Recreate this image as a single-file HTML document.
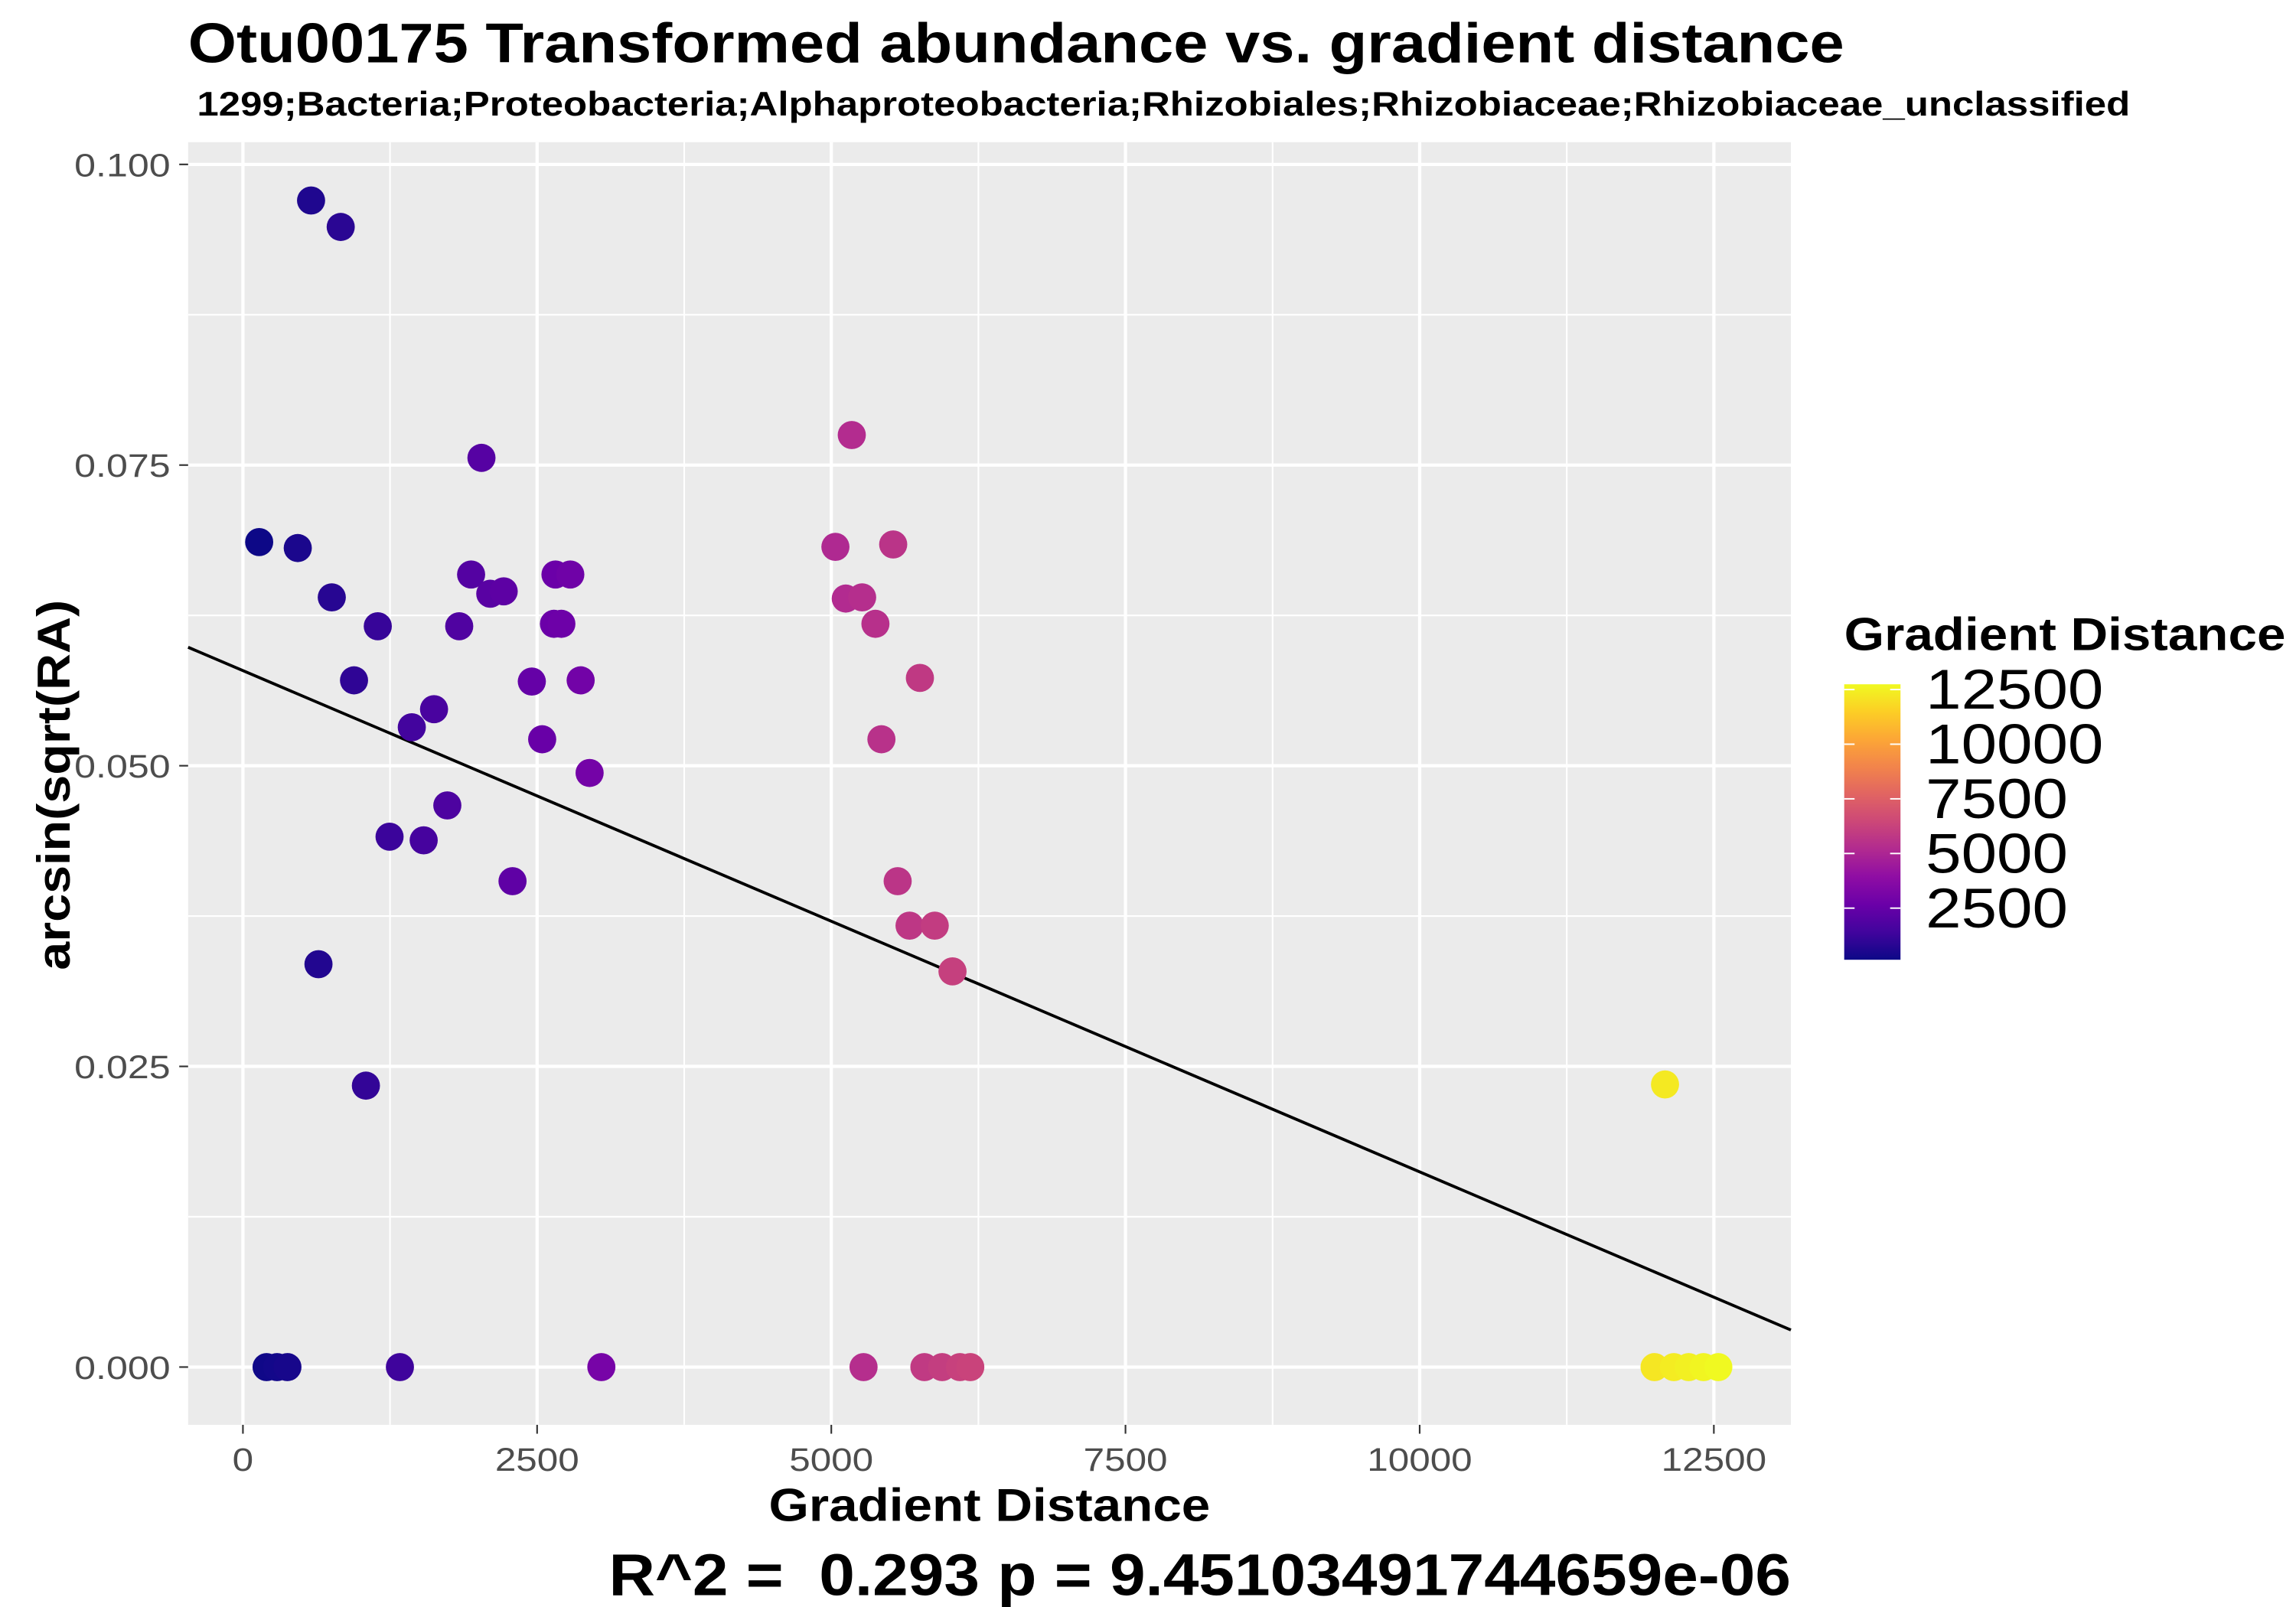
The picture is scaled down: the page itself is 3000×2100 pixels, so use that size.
<!DOCTYPE html>
<html><head><meta charset="utf-8"><style>html,body{margin:0;padding:0;background:#fff}svg{display:block}text{font-family:"Liberation Sans",sans-serif}</style></head>
<body>
<svg id="chart" width="3000" height="2100" viewBox="0 0 1550 1085" xmlns="http://www.w3.org/2000/svg">
<text x="127" y="42" font-size="38" font-weight="bold" textLength="1118" lengthAdjust="spacingAndGlyphs">Otu00175 Transformed abundance vs. gradient distance</text>
<text x="133" y="78" font-size="23" font-weight="bold" textLength="1305" lengthAdjust="spacingAndGlyphs">1299;Bacteria;Proteobacteria;Alphaproteobacteria;Rhizobiales;Rhizobiaceae;Rhizobiaceae_unclassified</text>
<rect x="127" y="96" width="1082" height="866" fill="#ebebeb"/>
<g id="grid"></g>
<g id="fit"></g>
<g id="points"></g>
<g id="axes"></g>
<text x="519" y="1027" font-size="31" font-weight="bold" textLength="298" lengthAdjust="spacingAndGlyphs">Gradient Distance</text>
<text transform="translate(47,655) rotate(-90)" font-size="31" font-weight="bold" textLength="250" lengthAdjust="spacingAndGlyphs">arcsin(sqrt(RA)</text>
<text x="411" y="1077" font-size="40" font-weight="bold" textLength="798" lengthAdjust="spacingAndGlyphs" xml:space="preserve">R^2 =  0.293 p = 9.45103491744659e-06</text>
<text x="1245" y="439" font-size="31" font-weight="bold" textLength="298" lengthAdjust="spacingAndGlyphs">Gradient Distance</text>
<defs><linearGradient id="plasma" x1="0" y1="1" x2="0" y2="0">
<stop offset="0" stop-color="#0d0887"/><stop offset="0.1" stop-color="#41049d"/><stop offset="0.2" stop-color="#6a00a8"/><stop offset="0.3" stop-color="#8f0da4"/><stop offset="0.4" stop-color="#b12a90"/><stop offset="0.5" stop-color="#cc4778"/><stop offset="0.6" stop-color="#e16462"/><stop offset="0.7" stop-color="#f2844b"/><stop offset="0.8" stop-color="#fca636"/><stop offset="0.9" stop-color="#fcce25"/><stop offset="1" stop-color="#f0f921"/></linearGradient></defs>
<rect x="1245" y="462" width="38" height="186" fill="url(#plasma)"/>
<g id="legend"></g>
</svg>
<script>
const xs=[579,831,138,466,755,1146,944,642,1045,1435,1624,1246,1536,1737,1838,1939,2027,2102,2216,2291,2455,2543,2656,2782,2643,2706,2870,2946,5035,5174,5123,5262,5526,5375,5753,5426,5564,5665,5879,6030,12085,201,290,378,1334,3046,5274,5791,5942,6093,6181,11996,12160,12286,12412,12538];
const ys=[0.0970,0.0948,0.0686,0.0681,0.0640,0.0616,0.0571,0.0335,0.0234,0.0532,0.0547,0.0441,0.0438,0.0467,0.0616,0.0659,0.0756,0.0643,0.0645,0.0404,0.0570,0.0522,0.0659,0.0659,0.0618,0.0618,0.0571,0.0494,0.0682,0.0775,0.0639,0.0640,0.0684,0.0618,0.0573,0.0522,0.0404,0.0367,0.0367,0.0329,0.0235,0,0,0,0,0,0,0,0,0,0,0,0,0,0,0];
const xTicks=[0,2500,5000,7500,10000,12500];
const yTicks=[0,0.025,0.05,0.075,0.1];
const yTickLabels=["0.000","0.025","0.050","0.075","0.100"];
const legendTicks=[2500,5000,7500,10000,12500];
const fitIntercept=0.05791, fitSlope=-4.168e-6;
const X=v=>164+v*0.07944, Y=v=>923-v*8120;
const NS="http://www.w3.org/2000/svg";
function mk(tag,attrs,parent){const e=document.createElementNS(NS,tag);for(const k in attrs)e.setAttribute(k,attrs[k]);parent.appendChild(e);return e;}
function tw(s,d){let w=0;for(const ch of s)w+=(ch==='.')?8:d;return w;}
const grid=document.getElementById('grid'),axes=document.getElementById('axes');
for(let v=-1250;v<=13750;v+=1250){const px=X(v);if(px<127||px>1209)continue;const major=(v%2500===0);
 const l=mk('line',{x1:px,x2:px,y1:96,y2:962,stroke:'#fff','stroke-width':major?2.2:1.1},grid);
 
 }
for(let v=-0.0125;v<=0.1125;v+=0.0125){const py=Y(v);if(py<96||py>962)continue;const major=Math.abs(Math.round(v/0.0125))%2===0;
 const l=mk('line',{x1:127,x2:1209,y1:py,y2:py,stroke:'#fff','stroke-width':major?2.2:1.1},grid);
 
 }
xTicks.forEach(v=>{const px=X(v);const s=String(v);
 const t=mk('line',{x1:px,x2:px,y1:962,y2:968,stroke:'#333','stroke-width':1.1},axes);
 
 
 const w=tw(s,14.2);
 const tx=mk('text',{x:px-w/2,y:993,'font-size':22,fill:'#4d4d4d',textLength:w,lengthAdjust:'spacingAndGlyphs'},axes);tx.textContent=s;
 
 });
yTicks.forEach((v,i)=>{const py=Y(v);const s=yTickLabels[i];
 const t=mk('line',{x1:121,x2:127,y1:py,y2:py,stroke:'#333','stroke-width':1.1},axes);
 
 
 const w=tw(s,14.2);
 const tx=mk('text',{x:115-w,y:py+8,'font-size':22,fill:'#4d4d4d',textLength:w,lengthAdjust:'spacingAndGlyphs'},axes);tx.textContent=s;
 
 });
const x0=(127-164)/0.07944, x1=(1209-164)/0.07944;
const fl=mk('line',{x1:X(x0),x2:X(x1),y1:Y(fitIntercept+fitSlope*x0),y2:Y(fitIntercept+fitSlope*x1),stroke:'#000','stroke-width':2},document.getElementById('fit'));


const stops=["#0d0887","#41049d","#6a00a8","#8f0da4","#b12a90","#cc4778","#e16462","#f2844b","#fca636","#fcce25","#f0f921"];
function hex(h){return [1,3,5].map(i=>parseInt(h.substr(i,2),16));}
function plasma(t){t=Math.max(0,Math.min(1,t))*10;const i=Math.min(9,Math.floor(t)),f=t-i;const a=hex(stops[i]),b=hex(stops[i+1]);return 'rgb('+a.map((c,k)=>Math.round(c+(b[k]-c)*f)).join(',')+')';}
const dmin=Math.min(...xs),dmax=Math.max(...xs);
const pg=document.getElementById('points');
xs.forEach((v,i)=>{const c=mk('circle',{cx:X(v),cy:Y(ys[i]),r:9.5,fill:plasma((v-dmin)/(dmax-dmin))},pg);
 
 });
const lg=document.getElementById('legend');
const LY=v=>648-(v-dmin)/(dmax-dmin)*183;
legendTicks.forEach(v=>{const py=LY(v);const s=String(v);
 mk('line',{x1:1245,x2:1252,y1:py,y2:py,stroke:'#fff','stroke-width':1},lg);
 mk('line',{x1:1276,x2:1283,y1:py,y2:py,stroke:'#fff','stroke-width':1},lg);
 const tx=mk('text',{x:1300,y:py+13,'font-size':38,textLength:s.length*24,lengthAdjust:'spacingAndGlyphs'},lg);tx.textContent=s;
 
 });
</script>
</body></html>
